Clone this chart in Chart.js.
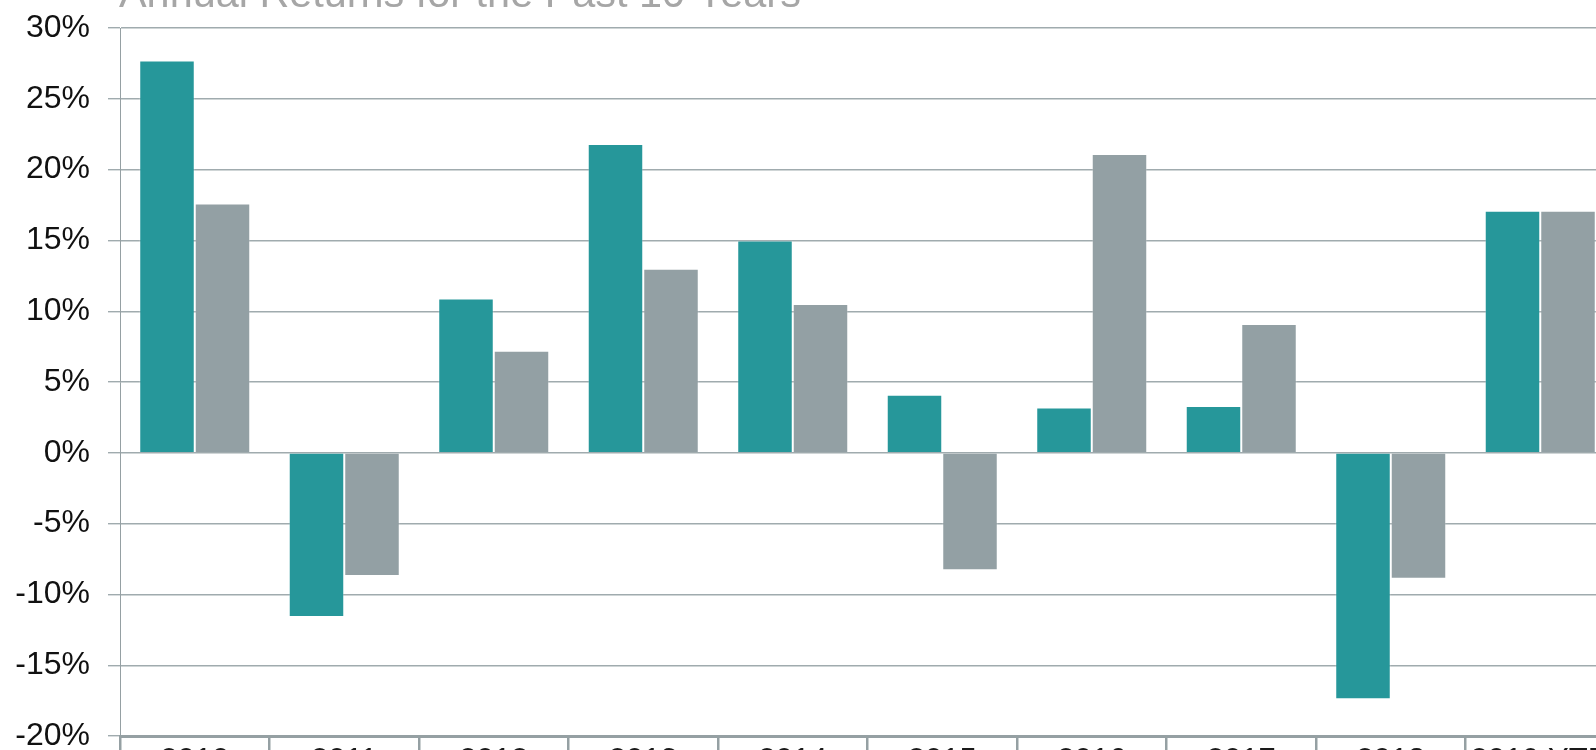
<!DOCTYPE html>
<html>
<head>
<meta charset="utf-8">
<title>Annual Returns for the Past 10 Years</title>
<script src="https://cdn.jsdelivr.net/npm/chart.js@4/dist/chart.umd.min.js"></script>
<style>
  html, body { margin: 0; padding: 0; background: #fff; overflow: hidden; }
  body { width: 1596px; height: 750px; position: relative; }
  #wrap { position: absolute; left: 0; top: -60px; width: 1640px; height: 880px; }
</style>
</head>
<body>
<div id="wrap"><canvas id="returnsChart" width="1640" height="880"></canvas></div>
<script>
/* ─── Data ──────────────────────────────────────── */
const TITLE      = 'Annual Returns for the Past 10 Years';
const YEARS      = ['2010', '2011', '2012', '2013', '2014', '2015', '2016', '2017', '2018', '2019 YTD'];
const FUND       = [27.7, -11.6, 10.9, 21.8, 15.0, 4.1, 3.2, 3.3, -17.4, 17.1];
const BENCHMARK  = [17.6, -8.7, 7.2, 13.0, 10.5, -8.3, 21.1, 9.1, -8.9, 17.1];
const Y_TICKS    = [-20, -15, -10, -5, 0, 5, 10, 15, 20, 25, 30];

/* ─── Style ─────────────────────────────────────── */
const FONT  = '"Liberation Sans", Arial, sans-serif';
const TEAL  = '#26979a';
const GREY  = '#93a0a4';
const GRID  = '#a0abae';
const AXIS  = '#95a0a3';

/* ─── Title plugin (sits on the plot's left edge) ─ */
const titlePlugin = {
  id: 'leftTitle',
  afterDraw(chart) {
    const { ctx, chartArea } = chart;
    ctx.save();
    ctx.font = `41.4px ${FONT}`;
    ctx.fillStyle = '#a6a6a6';
    ctx.textAlign = 'left';
    ctx.textBaseline = 'alphabetic';
    ctx.fillText(TITLE, chartArea.left - 1, 67);
    ctx.restore();
  },
};

/* ─── Chart ─────────────────────────────────────── */
const ctx = document.getElementById('returnsChart').getContext('2d');

new Chart(ctx, {
  type: 'bar',
  data: {
    labels: YEARS,
    datasets: [
      {
        label: 'Fund',
        data: FUND,
        backgroundColor: TEAL,
        borderColor: 'rgba(255,255,255,.25)',
        borderWidth: 1,
      },
      {
        label: 'Benchmark',
        data: BENCHMARK,
        backgroundColor: GREY,
        borderColor: 'rgba(255,255,255,.25)',
        borderWidth: 1,
      },
    ],
  },
  options: {
    responsive: false,
    animation: false,
    layout: { padding: { top: 88, right: 25, bottom: 0, left: 0 } },
    datasets: { bar: { categoryPercentage: 0.7425, barPercentage: 1.0 } },
    plugins: {
      legend:  { display: false },
      title:   { display: false },
      tooltip: { enabled: false },
    },
    scales: {
      x: {
        grid: {
          offset: true,
          drawOnChartArea: false,
          drawTicks: true,
          tickLength: 30,
          color: AXIS,
          lineWidth: 2.5,
        },
        border: { display: true, color: AXIS, width: 3 },
        ticks: {
          color: '#1a1a1a',
          padding: -23,
          maxRotation: 0,
          autoSkip: false,
          font: { family: FONT, size: 31 },
        },
        afterFit: s => { s.height = 84; },
      },
      y: {
        min: -20,
        max: 30,
        afterBuildTicks: s => { s.ticks = Y_TICKS.map(v => ({ value: v })); },
        grid: {
          color: GRID,
          lineWidth: 1.4,
          drawTicks: true,
          tickLength: 12,
        },
        border: { display: true, color: AXIS, width: 1 },
        ticks: {
          color: '#111',
          padding: 18,
          font: { family: FONT, size: 32 },
          callback: v => v + '%',
        },
        afterFit: s => { s.width = 120; },
      },
    },
  },
  plugins: [titlePlugin],
});
</script>
</body>
</html>
